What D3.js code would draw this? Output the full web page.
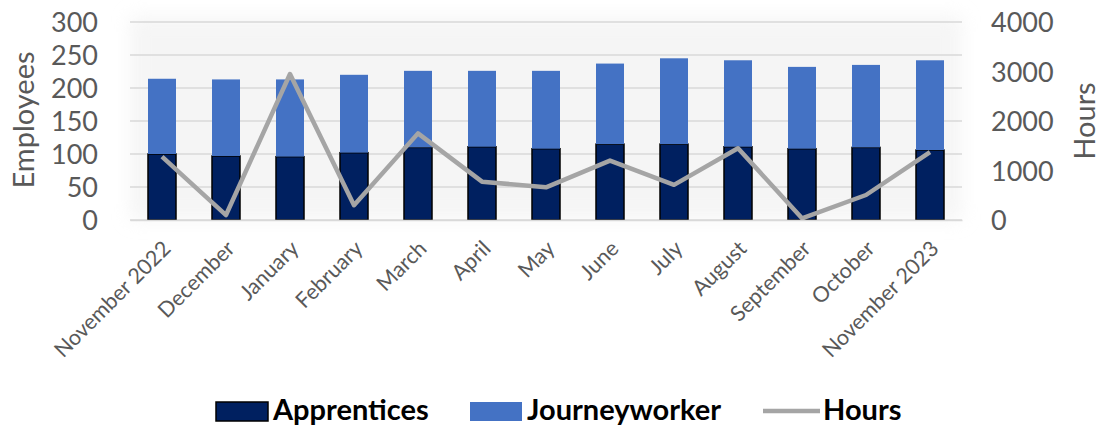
<!DOCTYPE html>
<html>
<head>
<meta charset="utf-8">
<script src="https://cdn.jsdelivr.net/npm/d3@7"></script>
<style>
  body { margin: 0; background: #fff; }
  text { font-family: Lato, "Open Sans", sans-serif; }
</style>
</head>
<body>
<script>
    // chart data
    var months = ["November 2022", "December", "January", "February", "March", "April", "May",
                  "June", "July", "August", "September", "October", "November 2023"];
    var apprentices = [100, 97, 96, 102, 110, 111, 108, 115, 115, 111, 108, 110, 106];
    var journeyworkers = [114, 116, 117, 118, 116, 115, 118, 122, 130, 131, 124, 125, 136];
    var hours = [1280, 100, 2950, 300, 1750, 775, 660, 1200, 710, 1450, 35, 505, 1370];
    var leftTicks = [0, 50, 100, 150, 200, 250, 300];
    var rightTicks = [0, 1000, 2000, 3000, 4000];

    var W = 1102, H = 425,
        margin = { top: 22, left: 130 },
        width = 962 - margin.left,
        height = 220 - margin.top;

    var svg = d3.select("body").append("svg").attr("width", W).attr("height", H);

    // soft shadow behind the plot area
    var defs = svg.append("defs");
    defs.append("filter").attr("id", "soft")
        .attr("x", "-10%").attr("y", "-30%").attr("width", "120%").attr("height", "160%")
      .append("feGaussianBlur").attr("stdDeviation", 9);

    var g = svg.append("g").attr("transform", "translate(" + margin.left + "," + margin.top + ")");

    g.append("rect")
        .attr("x", 0).attr("y", -6)
        .attr("width", width).attr("height", height + 6)
        .attr("fill", "#ececec")
        .attr("opacity", 0.5)
        .attr("filter", "url(#soft)");

    var x = d3.scaleBand().domain(months).range([0, width]).paddingInner(0.5625).paddingOuter(0.28125);
    var yL = d3.scaleLinear().domain([0, 300]).range([height, 0]);
    var yR = d3.scaleLinear().domain([0, 4000]).range([height, 0]);

    // gridlines
    g.append("g").selectAll("line").data(leftTicks).enter().append("line")
        .attr("x1", 0).attr("x2", width)
        .attr("y1", function (d) { return yL(d); })
        .attr("y2", function (d) { return yL(d); })
        .attr("stroke", "#d9d9d9")
        .attr("stroke-width", 1.5);

    // stacked bars
    var stackData = months.map(function (m, i) { return { month: m, a: apprentices[i], j: journeyworkers[i] }; });
    var series = d3.stack().keys(["a", "j"])(stackData);
    var fills = { a: "#002060", j: "#4472c4" };

    g.selectAll("g.series").data(series).enter().append("g")
        .attr("class", "series")
        .attr("fill", function (s) { return fills[s.key]; })
        .attr("stroke", function (s) { return s.key === "a" ? "#000" : "none"; })
        .attr("stroke-width", 1.5)
      .selectAll("rect").data(function (s) { return s; }).enter().append("rect")
        .attr("x", function (d) { return x(d.data.month); })
        .attr("width", x.bandwidth())
        .attr("y", function (d) { return yL(d[1]); })
        .attr("height", function (d) { return yL(d[0]) - yL(d[1]); });

    // hours line
    var line = d3.line()
        .x(function (d, i) { return x(months[i]) + x.bandwidth() / 2; })
        .y(function (d) { return yR(d); });

    g.append("path").datum(hours)
        .attr("fill", "none")
        .attr("stroke", "#a5a5a5")
        .attr("stroke-width", 4.5)
        .attr("stroke-linejoin", "round")
        .attr("d", line);

    // axes
    var leftAxis = g.append("g")
        .call(d3.axisLeft(yL).tickValues(leftTicks).tickSize(0).tickPadding(32));
    var rightAxis = g.append("g")
        .attr("transform", "translate(" + width + ",0)")
        .call(d3.axisRight(yR).tickValues(rightTicks).tickFormat(d3.format("d")).tickSize(0).tickPadding(29));
    [leftAxis, rightAxis].forEach(function (a) {
        a.select(".domain").remove();
        a.selectAll("text").attr("font-size", 27).attr("fill", "#595959")
            .attr("font-family", "Lato, sans-serif").attr("dy", "0.36em");
    });

    var bottomAxis = g.append("g")
        .attr("transform", "translate(0," + height + ")")
        .call(d3.axisBottom(x).tickSize(0).tickPadding(0));
    bottomAxis.select(".domain").attr("stroke", "#d9d9d9").attr("stroke-width", 1.5);
    bottomAxis.selectAll("text")
        .attr("font-size", 21.5)
        .attr("fill", "#595959")
        .attr("font-family", "Lato, sans-serif")
        .attr("text-anchor", "end")
        .attr("dy", 0)
        .attr("transform", "translate(10,30) rotate(-45)");

    // axis titles
    svg.append("text")
        .attr("transform", "translate(34,120) rotate(-90)")
        .attr("text-anchor", "middle")
        .attr("font-size", 29)
        .attr("fill", "#595959")
        .text("Employees");
    svg.append("text")
        .attr("transform", "translate(1095,121) rotate(-90)")
        .attr("text-anchor", "middle")
        .attr("font-size", 29)
        .attr("fill", "#595959")
        .text("Hours");

    // legend
    var legend = svg.append("g");
    var items = [
        { label: "Apprentices", x: 216, kind: "a" },
        { label: "Journeyworker", x: 470, kind: "j" },
        { label: "Hours", x: 763, kind: "h" }
    ];
    items.forEach(function (it) {
        if (it.kind === "h") {
            legend.append("line")
                .attr("x1", it.x).attr("x2", it.x + 57)
                .attr("y1", 411).attr("y2", 411)
                .attr("stroke", "#a5a5a5").attr("stroke-width", 4.5);
        } else {
            legend.append("rect")
                .attr("x", it.x).attr("y", 402)
                .attr("width", 52).attr("height", 19)
                .attr("fill", fills[it.kind])
                .attr("stroke", it.kind === "a" ? "#000" : "none")
                .attr("stroke-width", 1.5);
        }
        legend.append("text")
            .attr("x", it.x + (it.kind === "h" ? 60 : 57)).attr("y", 420)
            .attr("font-size", 29)
            .attr("font-weight", "bold")
            .attr("fill", "#000")
            .text(it.label);
    });
</script>
</body>
</html>
